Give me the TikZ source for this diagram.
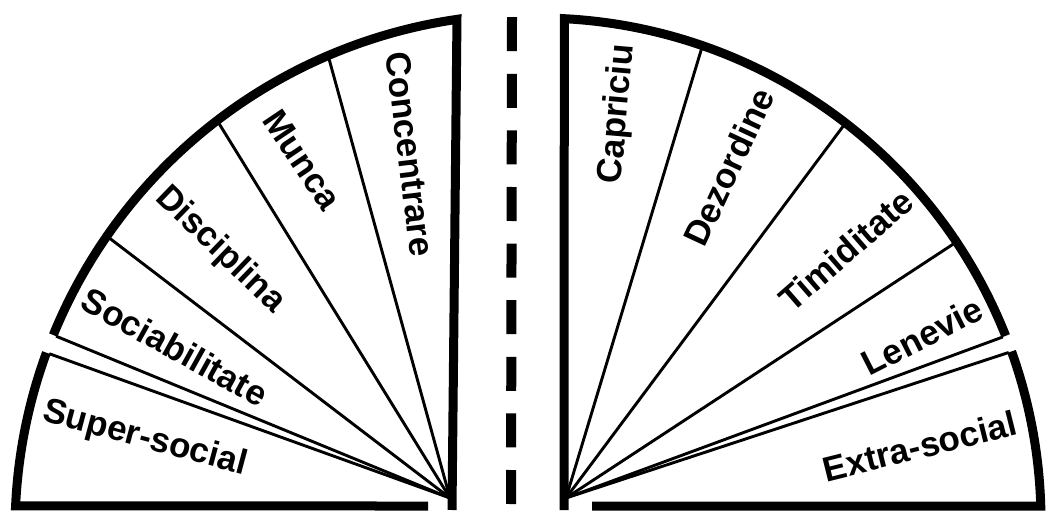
\documentclass[tikz,border=0pt]{standalone}
\usepackage{fontspec}
\setmainfont{Liberation Sans}
\usetikzlibrary{calc}

\begin{document}
\begin{tikzpicture}[x=1pt, y=1pt,
    rim/.style={line width=9pt, line join=miter, line cap=butt},
    spoke/.style={line width=2.9pt},
    lbl/.style={font=\fontsize{35}{38}\selectfont\bfseries, inner sep=0pt},
    divider/.style={line width=10pt, dash pattern=on 34pt off 22.6pt},
  ]
  \useasboundingbox (0,0) rectangle (1046,512);

  % Rim centres lie below the apex; radii in pt (1pt = 1px of the page)
  \def\Rl{516}   % left rim
  \def\Rr{503}   % right rim

  \coordinate (lc) at (531,-18);
  \coordinate (rc) at (538,-9);
  \coordinate (la) at (450,14);   % left apex
  \coordinate (ra) at (566,14);   % right apex

  % ── Left fan ────────────────────────────────────────────────────────
  \foreach \a [count=\i] in {113.2,127.5,145.3,157.8,159.9}
    \coordinate (lp\i) at ($(lc)+(\a:\Rl-3)$);
  \foreach \i in {1,...,5}
    \draw[spoke] (la) -- (lp\i);

  \coordinate (lb) at (452,2);
  \coordinate (lt) at ($(lc)+(98.25:\Rl)$);
  \coordinate (lf) at (428,6);
  \coordinate (ls) at ($(lc)+(177.33:\Rl)$);

  \draw[rim] (lb) -- (lt) arc[start angle=98.25, end angle=157.8, radius=\Rl];
  \draw[rim] (lf) -- (ls) arc[start angle=177.33, end angle=159.9, radius=\Rl];

  \node[lbl, rotate=-15] (super) at (145,73)  {Super-social};
  \node[lbl, rotate=-29] (soc)   at (175,165) {Sociabilitate};
  \node[lbl, rotate=-44] (disc)  at (220,262) {Disciplina};
  \node[lbl, rotate=-56] (munca) at (302,352) {Munca};
  \node[lbl, rotate=-83] (conc)  at (410,358) {Concentrare};

  % ── Divider ─────────────────────────────────────────────────────────
  \coordinate (db) at (511,8);
  \coordinate (dt) at (512,495);
  \draw[divider] (db) -- (dt);

  % ── Right fan ───────────────────────────────────────────────────────
  \foreach \a [count=\i] in {70.9,52.3,33.7,21.6,19.7}
    \coordinate (rp\i) at ($(rc)+(\a:\Rr-3)$);
  \foreach \i in {1,...,5}
    \draw[spoke] (ra) -- (rp\i);

  \coordinate (rb) at (564,2);
  \coordinate (rt) at ($(rc)+(87:\Rr)$);
  \coordinate (rf) at (592,6);
  \coordinate (rs) at ($(rc)+(1.71:\Rr)$);

  \draw[rim] (rb) -- (rt) arc[start angle=87, end angle=21.6, radius=\Rr];
  \draw[rim] (rf) -- (rs) arc[start angle=1.71, end angle=19.7, radius=\Rr];

  \node[lbl, rotate=85] (capr)  at (618,398) {Capriciu};
  \node[lbl, rotate=65] (dez)   at (729,345) {Dezordine};
  \node[lbl, rotate=41] (timid) at (846,262) {Timiditate};
  \node[lbl, rotate=27] (len)   at (922,176) {Lenevie};
  \node[lbl, rotate=14] (extra) at (920,66)  {Extra-social};
\end{tikzpicture}
\end{document}
